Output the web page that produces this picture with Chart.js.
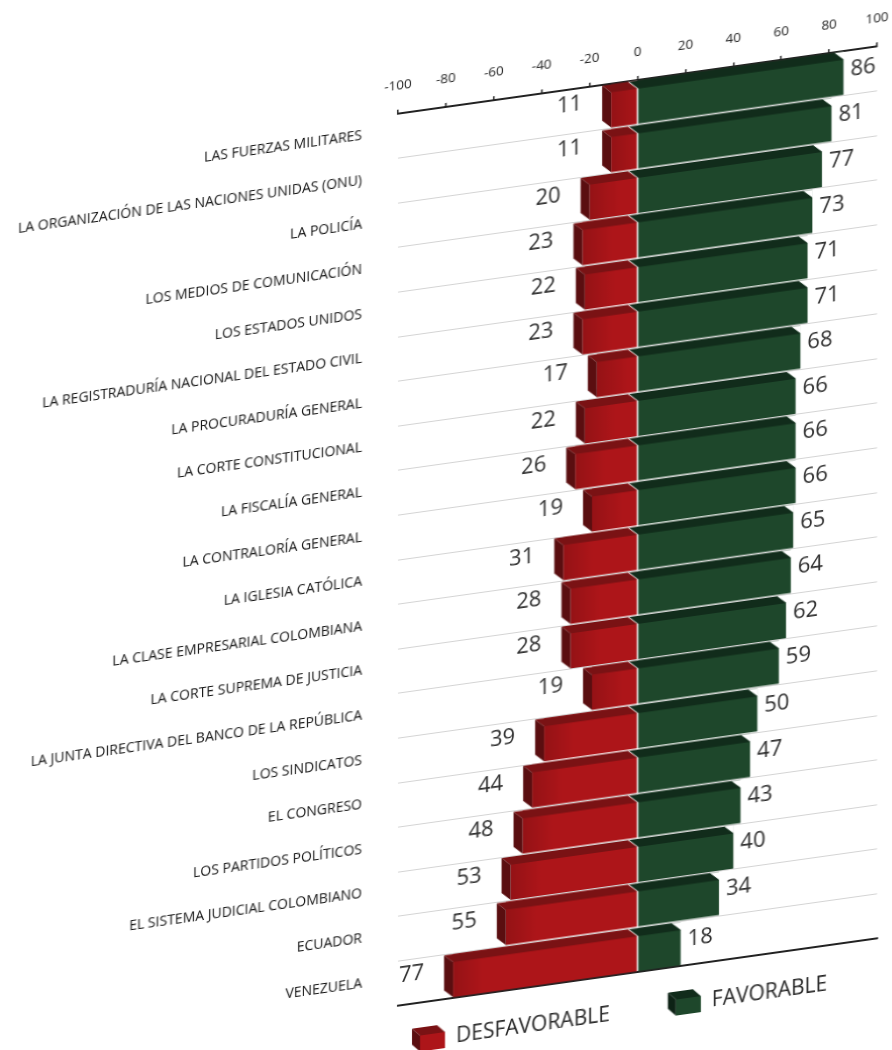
<!DOCTYPE html>
<html>
<head>
<meta charset="utf-8">
<script src="https://cdn.jsdelivr.net/npm/chart.js@4/dist/chart.umd.min.js"></script>
<style>
  html, body { margin: 0; padding: 0; background: #ffffff; }
  #wrap { position: relative; width: 892px; height: 1050px; overflow: hidden; background: #fff; }
  #c { position: absolute; left: 0; top: 0; width: 892px; height: 1050px;
       transform-origin: 637.5px 0px; transform: skewY(-8deg); }
</style>
</head>
<body>
<div id="wrap"><canvas id="c" width="892" height="1050"></canvas></div>
<script>
const categories = [
  "LAS FUERZAS MILITARES",
  "LA ORGANIZACIÓN DE LAS NACIONES UNIDAS (ONU)",
  "LA POLICÍA",
  "LOS MEDIOS DE COMUNICACIÓN",
  "LOS ESTADOS UNIDOS",
  "LA REGISTRADURÍA NACIONAL DEL ESTADO CIVIL",
  "LA PROCURADURÍA GENERAL",
  "LA CORTE CONSTITUCIONAL",
  "LA FISCALÍA GENERAL",
  "LA CONTRALORÍA GENERAL",
  "LA IGLESIA CATÓLICA",
  "LA CLASE EMPRESARIAL COLOMBIANA",
  "LA CORTE SUPREMA DE JUSTICIA",
  "LA JUNTA DIRECTIVA DEL BANCO DE LA REPÚBLICA",
  "LOS SINDICATOS",
  "EL CONGRESO",
  "LOS PARTIDOS POLÍTICOS",
  "EL SISTEMA JUDICIAL COLOMBIANO",
  "ECUADOR",
  "VENEZUELA"
];
const favorable    = [86, 81, 77, 73, 71, 71, 68, 66, 66, 66, 65, 64, 62, 59, 50, 47, 43, 40, 34, 18];
const desfavorable = [11, 11, 20, 23, 22, 23, 17, 22, 26, 19, 31, 28, 28, 19, 39, 44, 48, 53, 55, 77];
const seriesNames  = ["DESFAVORABLE", "FAVORABLE"];
const axisMin = -100, axisMax = 100, axisStep = 20;

const COLORS = {
  red:   { front: '#ad1519', top: '#7a1214', side: '#5a0e10' },
  green: { front: '#1e472b', top: '#112c1b', side: '#0d2215' }
};
const DEPTH = { dx: 9, dy: 8 };
const FONT = "'Open Sans', 'DejaVu Sans', sans-serif";

const bar3d = {
  id: 'bar3d',
  afterDatasetsDraw(chart) {
    const ctx = chart.ctx;
    ctx.save();
    chart.data.datasets.forEach((ds, di) => {
      const meta = chart.getDatasetMeta(di);
      const col = di === 0 ? COLORS.red : COLORS.green;
      meta.data.forEach(el => {
        const p = el.getProps(['x', 'y', 'base', 'height'], true);
        const L = Math.min(p.x, p.base), R = Math.max(p.x, p.base);
        const T = p.y - p.height / 2, B = p.y + p.height / 2;
        const FT = T + DEPTH.dy;
        if (di === 0) {
          const g = ctx.createLinearGradient(L, 0, L + 30, 0);
          g.addColorStop(0, 'rgba(0,0,0,0.14)');
          g.addColorStop(1, 'rgba(0,0,0,0)');
          ctx.fillStyle = g; ctx.fillRect(L, FT, Math.min(30, R - L), B - FT);
        }
        // clear top-right corner so the end looks bevelled
        ctx.fillStyle = '#ffffff';
        ctx.beginPath();
        ctx.moveTo(R - DEPTH.dx, T); ctx.lineTo(R + 0.5, T); ctx.lineTo(R + 0.5, FT); ctx.closePath();
        ctx.fill();
        // top face
        ctx.fillStyle = col.top;
        ctx.beginPath();
        ctx.moveTo(L - DEPTH.dx, T); ctx.lineTo(R - DEPTH.dx, T); ctx.lineTo(R, FT); ctx.lineTo(L, FT);
        ctx.closePath(); ctx.fill();
        // left side face for the negative bars
        if (di === 0) {
          ctx.fillStyle = col.side;
          ctx.beginPath();
          ctx.moveTo(L - DEPTH.dx, T); ctx.lineTo(L, FT); ctx.lineTo(L, B); ctx.lineTo(L - DEPTH.dx, B - DEPTH.dy);
          ctx.closePath(); ctx.fill();
        }
      });
    });
    ctx.restore();
  }
};

const valueLabels = {
  id: 'valueLabels',
  afterDatasetsDraw(chart) {
    const ctx = chart.ctx;
    ctx.save();
    ctx.font = "22px " + FONT;
    ctx.fillStyle = '#2f2f2f';
    ctx.textBaseline = 'middle';
    const vals = [desfavorable, favorable];
    chart.data.datasets.forEach((ds, di) => {
      const meta = chart.getDatasetMeta(di);
      meta.data.forEach((el, i) => {
        const p = el.getProps(['x', 'y', 'base'], true);
        if (di === 0) {
          ctx.textAlign = 'right';
          ctx.fillText(String(vals[0][i]), Math.min(p.x, p.base) - DEPTH.dx - 20, p.y - 7);
        } else {
          ctx.textAlign = 'left';
          ctx.fillText(String(vals[1][i]), Math.max(p.x, p.base) + 7, p.y - 3);
        }
      });
    });
    ctx.restore();
  }
};

const legend3d = {
  id: 'legend3d',
  afterDraw(chart) {
    const ctx = chart.ctx;
    ctx.save();
    ctx.font = "21px " + FONT;
    ctx.textBaseline = 'middle';
    ctx.textAlign = 'left';
    let x = 420;
    const cy = 1011;
    chart.data.datasets.forEach((ds, di) => {
      const col = di === 0 ? COLORS.red : COLORS.green;
      const w = 25, h = 16;
      const L = x, R = x + w, T = cy - h / 2 + 2, B = T + h;
      ctx.fillStyle = col.front; ctx.fillRect(L, T, w, h);
      ctx.fillStyle = col.top;
      ctx.beginPath(); ctx.moveTo(L - 8, T - 8); ctx.lineTo(R - 8, T - 8); ctx.lineTo(R, T); ctx.lineTo(L, T); ctx.closePath(); ctx.fill();
      ctx.fillStyle = col.side;
      ctx.beginPath(); ctx.moveTo(L - 8, T - 8); ctx.lineTo(L, T); ctx.lineTo(L, B); ctx.lineTo(L - 8, B - 8); ctx.closePath(); ctx.fill();
      ctx.fillStyle = '#262626';
      const label = ds.label;
      ctx.fillText(label, R + 11, cy);
      x = R + 11 + ctx.measureText(label).width + 66;
    });
    ctx.restore();
  }
};

new Chart(document.getElementById('c'), {
  type: 'bar',
  data: {
    labels: categories,
    datasets: [
      { label: seriesNames[0], data: desfavorable.map(v => -v), backgroundColor: COLORS.red.front,
        borderWidth: 0, barPercentage: 0.965, categoryPercentage: 1.0, stack: 's' },
      { label: seriesNames[1], data: favorable, backgroundColor: COLORS.green.front,
        borderWidth: 0, barPercentage: 0.965, categoryPercentage: 1.0, stack: 's' }
    ]
  },
  options: {
    indexAxis: 'y',
    responsive: false,
    animation: false,
    devicePixelRatio: 1,
    layout: { padding: { left: 0, right: 15, top: 0, bottom: 78 } },
    plugins: { legend: { display: false }, tooltip: { enabled: false } },
    scales: {
      x: {
        position: 'top', stacked: true, min: axisMin, max: axisMax,
        ticks: { stepSize: axisStep, color: '#222', font: { family: FONT, size: 13.5 }, padding: 16, maxRotation: 0 },
        grid: { drawOnChartArea: false, drawTicks: true, tickLength: 4, color: '#222', lineWidth: 1.5 },
        border: { display: true, color: '#222', width: 2 },
        afterFit: s => { s.height = 80; s.paddingLeft = 0; s.paddingRight = 0; }
      },
      x2: {
        position: 'bottom', min: axisMin, max: axisMax, display: true,
        ticks: { display: false },
        grid: { display: false, drawTicks: false },
        border: { display: true, color: '#222', width: 2 },
        afterFit: s => { s.height = 0; s.paddingLeft = 0; s.paddingRight = 0; }
      },
      y: {
        stacked: true,
        ticks: { color: '#141414', font: { family: FONT, size: 14 }, padding: 36, autoSkip: false, labelOffset: -5 },
        grid: { color: '#d4d4d4', lineWidth: 1, drawTicks: false },
        border: { display: false },
        afterFit: s => { s.width = 398; s.paddingTop = 0; s.paddingBottom = 0; }
      }
    }
  },
  plugins: [bar3d, valueLabels, legend3d]
});
</script>
</body>
</html>
